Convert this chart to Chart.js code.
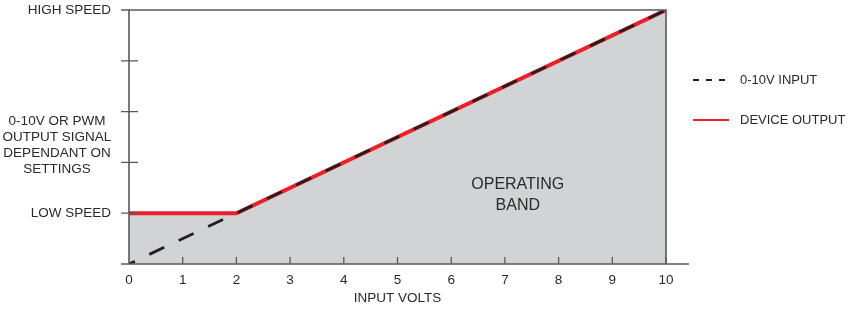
<!DOCTYPE html>
<html>
<head>
<meta charset="utf-8">
<script src="https://cdn.jsdelivr.net/npm/chart.js@4.4.1/dist/chart.umd.min.js"></script>
<style>
  html, body { margin: 0; padding: 0; background: #fff; }
  canvas { display: block; }
</style>
</head>
<body>
<canvas id="grafico" width="855" height="310"></canvas>
<script>
// dados
const inputVolts = [0, 2, 10];
const inputSignal = [0, 1, 5];
const deviceOutput = [1, 1, 5];
const xTicks = [0, 1, 2, 3, 4, 5, 6, 7, 8, 9, 10];
const yTicks = [0, 1, 2, 3, 4, 5];
const yTickLabels = ['', 'LOW SPEED', '', '', '', 'HIGH SPEED'];
const signalLabel = ['0-10V OR PWM', 'OUTPUT SIGNAL', 'DEPENDANT ON', 'SETTINGS'];
const bandLabel = ['OPERATING', 'BAND'];
const legendLabels = ['0-10V INPUT', 'DEVICE OUTPUT'];

const FONTE = '"Liberation Sans", Arial, sans-serif';
const COR_TEXTO = '#2a2a2a';
const COR_EIXO = '#58595b';
const VERMELHO = '#e8212a';
const PRETO = '#231f20';

const pontos = (ys) => inputVolts.map((x, i) => ({ x: x, y: ys[i] }));

// eixos, bordas, marcações e textos extras
const desenhoExtra = {
  id: 'desenhoExtra',
  afterDatasetsDraw(chart) {
    const { ctx, chartArea: a, scales: { x, y } } = chart;
    ctx.save();
    ctx.strokeStyle = COR_EIXO;
    ctx.lineWidth = 1.6;
    ctx.setLineDash([]);

    // eixo x, eixo y, borda superior e direita
    ctx.beginPath();
    ctx.moveTo(a.left - 8, a.bottom); ctx.lineTo(a.right + 23, a.bottom);
    ctx.moveTo(a.left, a.bottom); ctx.lineTo(a.left, a.top);
    ctx.moveTo(a.left - 8, a.top); ctx.lineTo(a.right, a.top);
    ctx.lineTo(a.right, a.bottom);
    ctx.stroke();

    // marcações do eixo y (cruzando o eixo)
    ctx.lineWidth = 1.3;
    ctx.beginPath();
    yTicks.forEach(v => {
      if (v === 0 || v === 5) return;
      const py = y.getPixelForValue(v);
      ctx.moveTo(a.left - 8, py); ctx.lineTo(a.left + 9, py);
    });
    // marcações do eixo x (para cima)
    xTicks.forEach(v => {
      if (v === 0) return;
      const px = x.getPixelForValue(v);
      ctx.moveTo(px, a.bottom); ctx.lineTo(px, a.bottom - 7);
    });
    ctx.stroke();

    ctx.fillStyle = COR_TEXTO;
    ctx.textAlign = 'center';
    ctx.textBaseline = 'middle';

    // rótulo do meio do eixo y
    ctx.font = '13.5px ' + FONTE;
    const cy = y.getPixelForValue(2.34);
    signalLabel.forEach((t, i) => {
      ctx.fillText(t, 57, cy + (i - 1.5) * 16);
    });

    // texto da faixa de operação
    ctx.font = '16px ' + FONTE;
    const bx = x.getPixelForValue(7.24);
    const by = y.getPixelForValue(1.35);
    bandLabel.forEach((t, i) => {
      ctx.fillText(t, bx, by + (i - 0.5) * 21);
    });

    // legenda
    ctx.font = '13px ' + FONTE;
    const lx = a.right + 27;
    ctx.textAlign = 'left';
    ctx.lineWidth = 2;
    ctx.strokeStyle = PRETO;
    ctx.setLineDash([6, 7]);
    ctx.beginPath(); ctx.moveTo(lx, 80); ctx.lineTo(lx + 33, 80); ctx.stroke();
    ctx.strokeStyle = VERMELHO;
    ctx.setLineDash([]);
    ctx.beginPath(); ctx.moveTo(lx, 120); ctx.lineTo(lx + 36, 120); ctx.stroke();
    ctx.fillText(legendLabels[0], lx + 47, 80);
    ctx.fillText(legendLabels[1], lx + 47, 120);
    ctx.restore();
  }
};

new Chart(document.getElementById('grafico').getContext('2d'), {
  type: 'line',
  data: {
    datasets: [
      {
        label: legendLabels[0],
        data: pontos(inputSignal),
        borderColor: PRETO,
        borderWidth: 2.8,
        borderDash: [16.5, 16],
        borderDashOffset: 10,
        pointRadius: 0,
        fill: false,
        tension: 0,
        order: 0
      },
      {
        label: legendLabels[1],
        data: pontos(deviceOutput),
        borderColor: VERMELHO,
        borderWidth: 4,
        backgroundColor: '#d1d3d4',
        pointRadius: 0,
        fill: 'origin',
        tension: 0,
        order: 1
      }
    ]
  },
  options: {
    responsive: false,
    animation: false,
    layout: { padding: { top: 10, right: 189, bottom: 0, left: 0 } },
    plugins: {
      legend: { display: false },
      tooltip: { enabled: false }
    },
    scales: {
      x: {
        type: 'linear',
        min: 0,
        max: 10,
        afterBuildTicks: s => { s.ticks = xTicks.map(v => ({ value: v })); },
        afterFit: s => { s.height = 46; s.paddingLeft = 0; s.paddingRight = 0; },
        grid: { display: false, drawTicks: false },
        border: { display: false },
        ticks: { color: COR_TEXTO, font: { family: FONTE, size: 13.5 }, padding: 8, autoSkip: false, maxRotation: 0 },
        title: {
          display: true,
          text: 'INPUT VOLTS',
          color: COR_TEXTO,
          font: { family: FONTE, size: 13.5 },
          padding: { top: 0, bottom: 4 }
        }
      },
      y: {
        type: 'linear',
        min: 0,
        max: 5,
        afterBuildTicks: s => { s.ticks = yTicks.map(v => ({ value: v })); },
        afterFit: s => { s.width = 129; s.paddingTop = 0; s.paddingBottom = 0; },
        grid: { display: false, drawTicks: false },
        border: { display: false },
        ticks: {
          color: COR_TEXTO,
          font: { family: FONTE, size: 13.5 },
          padding: 18,
          autoSkip: false,
          callback: (v) => yTickLabels[yTicks.indexOf(v)]
        }
      }
    }
  },
  plugins: [desenhoExtra]
});
</script>
</body>
</html>
